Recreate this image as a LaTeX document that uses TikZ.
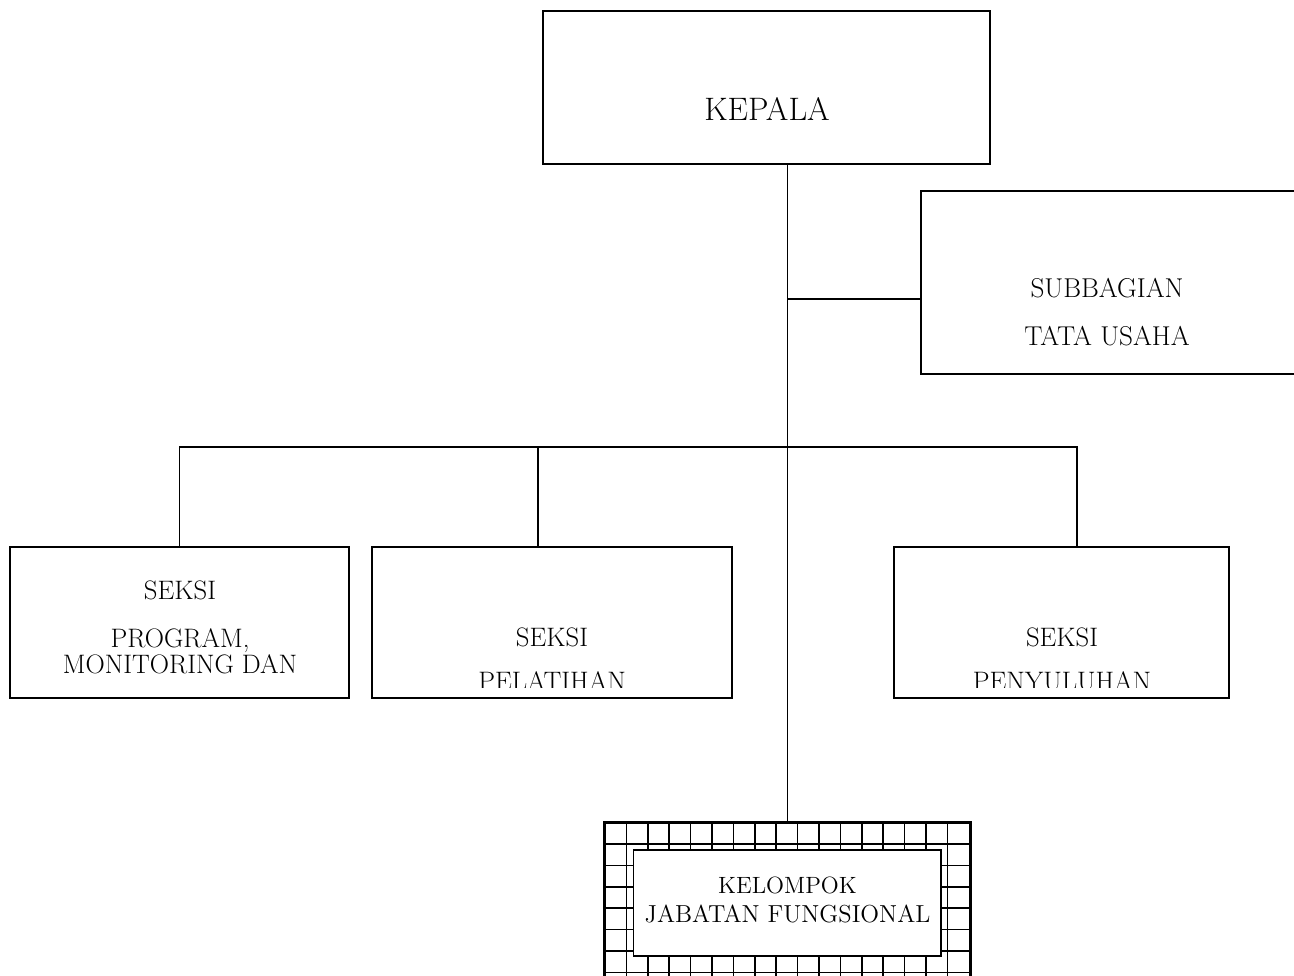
\documentclass[tikz,border=0pt]{standalone}
\usepackage{fontspec}
\begin{document}
\begin{tikzpicture}[x=0.02cm,y=-0.02cm,
	box/.style={draw,line width=1pt,inner sep=0pt,minimum height=3.02cm},
	lbl/.style={anchor=base,inner sep=0pt,font=\fontsize{15.2}{18}\selectfont},
	link/.style={line width=1.1pt}]
	\useasboundingbox (0,0) rectangle (1294,976);

	% boxes
	\node[box,minimum width=8.94cm,minimum height=3.06cm] (kepala) at (766.5,87.5) {};
	\node[box,minimum width=7.58cm,minimum height=3.66cm] (tu) at (1110.5,282.5) {};
	\node[box,minimum width=6.78cm] (seksiA) at (179.5,622.5) {};
	\node[box,minimum width=7.2cm] (seksiB) at (552,622.5) {};
	\node[box,minimum width=6.7cm] (seksiC) at (1061.5,622.5) {};

	% kelompok jabatan fungsional, grid frame
	\node[inner sep=0pt,minimum width=7.3cm,minimum height=3.54cm] (kjf) at (787.5,911.5) {};
	\foreach \k in {1,...,16}
		\draw[line width=1pt] (605+21.4*\k,823) -- (605+21.4*\k,1000);
	\foreach \k in {1,...,8}
		\draw[line width=1pt] (605,822.6+21.4*\k) -- (970,822.6+21.4*\k);
	\draw[line width=1.8pt] (kjf.south west) rectangle (kjf.north east);
	\node[draw,fill=white,line width=0.6pt,inner sep=0pt,minimum width=6.16cm,minimum height=2.12cm] (kjfin) at (787,903) {};

	% texts
	\node[lbl,font=\fontsize{18.5}{22}\selectfont] (tkepala) at (767,121) {KEPALA};
	\node[lbl,font=\fontsize{15.5}{18}\selectfont] (ttu1) at (1107,297) {SUBBAGIAN};
	\node[lbl,font=\fontsize{15.5}{18}\selectfont] (ttu2) at (1107,345) {TATA USAHA};
	\node[lbl] (tA1) at (180,599) {SEKSI};
	\node[lbl] (tA2) at (180,647) {PROGRAM,};
	\node[lbl] (tA3) at (180,673) {MONITORING DAN};
	\node[lbl] (tB1) at (552,646) {SEKSI};
	\node[lbl] (tC1) at (1062,646) {SEKSI};
	\begin{scope}
		\clip (372,540) rectangle (1229,687);
		\node[lbl] (tB2) at (552,690) {PELATIHAN};
		\node[lbl] (tC2) at (1062,690) {PENYULUHAN};
	\end{scope}
	\node[lbl,font=\fontsize{13.4}{16}\selectfont] (tk1) at (787.5,893) {KELOMPOK};
	\node[lbl,font=\fontsize{14}{16}\selectfont] (tk2) at (787.5,922) {JABATAN FUNGSIONAL};

	% connectors
	\coordinate (bus) at (787,447);
	\coordinate (tuin) at (921,299);
	\coordinate (dropB) at (538,547);
	\coordinate (dropC) at (1077,547);
	\draw[link] (kepala.south -| kjf.north) -- (kjf.north);
	\draw[link] (tuin -| bus) -- (tuin);
	\draw[link] (seksiA.north) |- (dropC |- bus) -- (dropC);
	\draw[link] (dropB) -- (dropB |- bus);
\end{tikzpicture}
\end{document}
